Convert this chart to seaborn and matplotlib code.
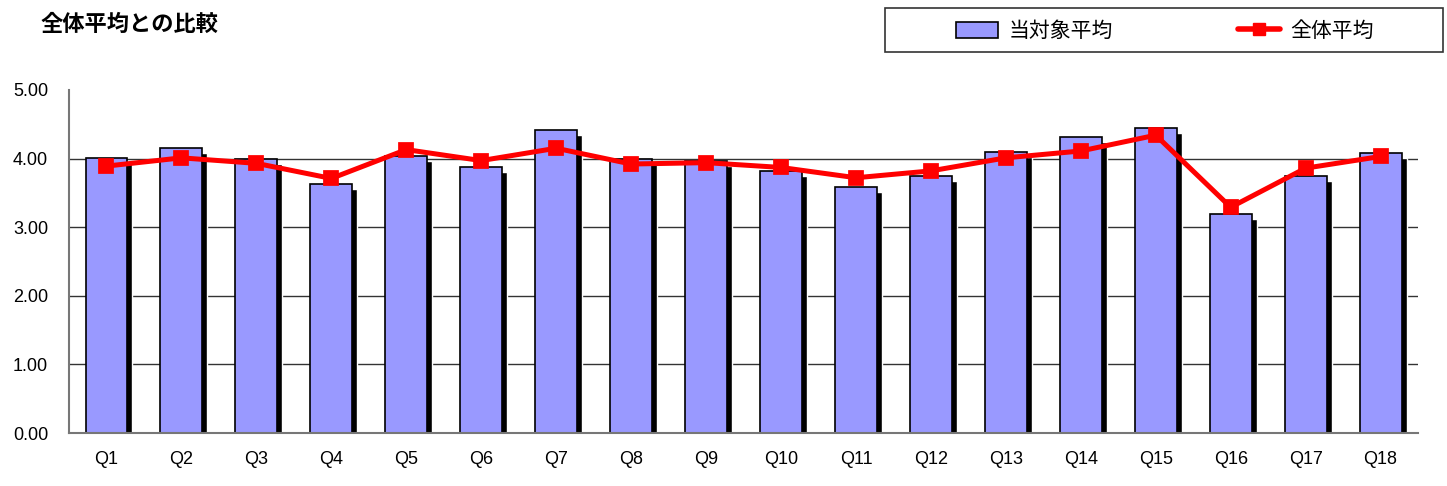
import matplotlib
matplotlib.use("Agg")
import matplotlib.pyplot as plt
import matplotlib.transforms as mtransforms
from matplotlib.patches import Patch, Rectangle
from matplotlib.lines import Line2D
import seaborn as sns
import numpy as np

# --- data ---
questions = [f"Q{i}" for i in range(1, 19)]
target_avg = [4.01, 4.16, 3.99, 3.63, 4.03, 3.87, 4.42, 4.00, 3.97,
              3.82, 3.58, 3.74, 4.09, 4.32, 4.44, 3.19, 3.74, 4.08]
overall_avg = [3.89, 4.01, 3.93, 3.71, 4.13, 3.97, 4.15, 3.92, 3.94,
               3.87, 3.72, 3.82, 4.01, 4.11, 4.34, 3.29, 3.86, 4.03]
y_ticks = [0, 1, 2, 3, 4, 5]

sns.set_style("white")
plt.rcParams["font.family"] = ["Liberation Sans", "Noto Sans CJK JP"]
plt.rcParams["text.color"] = "black"
plt.rcParams["xtick.color"] = "black"
plt.rcParams["ytick.color"] = "black"

fig = plt.figure(figsize=(14.47, 4.86), dpi=100)
ax = fig.add_axes([0.0477, 0.109, 0.9323, 0.706])

# gridlines (no line at the top value)
for v in y_ticks[1:-1]:
    ax.axhline(v, color="#333333", lw=1.0, zorder=0.5)

# shadow bars, shifted right/down
sns.barplot(x=questions, y=target_avg, color="black", width=0.56,
            saturation=1, ax=ax, zorder=1)
shift = mtransforms.ScaledTranslation(5 / 100, -5 / 100, fig.dpi_scale_trans)
for p in ax.patches:
    p.set_transform(ax.transData + shift)

# main bars
sns.barplot(x=questions, y=target_avg, color="#9999FF", width=0.56,
            saturation=1, edgecolor="black", linewidth=1.2, ax=ax, zorder=2)

# overall average line
sns.pointplot(x=questions, y=overall_avg, color="#FF0000", markers="s",
              markersize=8, linewidth=3.6, errorbar=None, ax=ax, zorder=3)

ax.set_xlim(-0.5, len(questions) - 0.5)
ax.set_ylim(0, 5)
ax.set_yticks(y_ticks)
ax.set_yticklabels([f"{v:.2f}" for v in y_ticks], fontsize=13)
ax.tick_params(axis="y", direction="in", length=6, color="#555555", pad=15)
ax.tick_params(axis="x", which="major", length=0, labelsize=13, pad=13)
ax.set_xticks(np.arange(len(questions) + 1) - 0.5, minor=True)
ax.tick_params(axis="x", which="minor", direction="in", length=6, color="#555555")
ax.set_xlabel("")
ax.set_ylabel("")

for s in ["top", "right"]:
    ax.spines[s].set_visible(False)
for s in ["left", "bottom"]:
    ax.spines[s].set_color("#777777")
    ax.spines[s].set_linewidth(1.5)

fig.text(0.028, 0.95, "全体平均との比較", fontsize=16, fontweight="bold",
         family=["Noto Sans CJK JP"], va="center", color="black")

# legend frame
fig.patches.append(Rectangle((885 / 1447, 1 - 52 / 486), 558 / 1447, 44 / 486,
                             transform=fig.transFigure, facecolor="white",
                             edgecolor="#333333", linewidth=1.2, zorder=0))

handles = [
    Patch(facecolor="#9999FF", edgecolor="black", linewidth=1.2),
    Line2D([], [], color="#FF0000", lw=4, marker="s", markersize=8),
]
leg = fig.legend(handles, ["当対象平均", "全体平均"], ncol=2,
                 loc="center", bbox_to_anchor=(1165 / 1447, 1 - 31 / 486),
                 frameon=False, prop={"family": "Noto Sans CJK JP", "size": 15},
                 handlelength=2.0, handleheight=0.8, handletextpad=0.5,
                 columnspacing=6.0, borderaxespad=0)

fig.savefig("out.png", dpi=100)
